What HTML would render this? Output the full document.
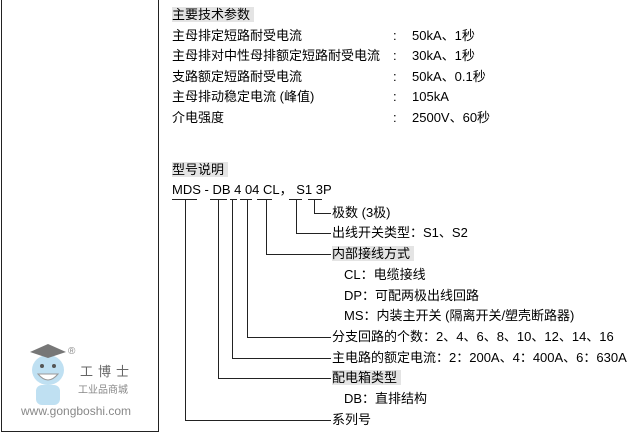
<!DOCTYPE html>
<html><head><meta charset="utf-8"><style>
body{margin:0;width:639px;height:434px;background:#fff;position:relative;overflow:hidden;font-family:"Liberation Sans","Noto Sans CJK SC",sans-serif;font-size:13px;color:#000}
.t{position:absolute;white-space:nowrap;line-height:16px;height:16px}
.h{background:#e4e4e4;padding-right:4px}
</style></head><body>
<div style="position:absolute;left:1px;top:-2px;width:156px;height:433px;border:1px solid #222;border-top:none"></div>
<svg style="position:absolute;left:0;top:0" width="639" height="434">
<g stroke="#222" stroke-width="1" fill="none">
<path d="M172 199.5H197M210 199.5H227M230 199.5H237M240 199.5H252M257 199.5H272M289 199.5H302M308 199.5H322"/>
<path d="M185.5 199.5V420.5H331M218.5 199.5V378.5H331M232.5 199.5V358.5H331M247.5 199.5V337.5H331M266.5 199.5V254.5H331M296.5 199.5V233.5H331M314.5 199.5V213.5H331"/>
</g>
<g>
<ellipse cx="48" cy="370" rx="16" ry="15" fill="#bfe0f2"/>
<path d="M30 352 L48 344 L66 352 L48 358Z" fill="#777"/>
<path d="M38 374 Q48 386 58 374Z" fill="#fff" stroke="#999"/>
<rect x="36" y="385" width="24" height="20" rx="6" fill="#bfe0f2"/>
<circle cx="42" cy="366" r="2" fill="#555"/><circle cx="54" cy="366" r="2" fill="#555"/>
</g>
</svg>
<div class="t" style="left:68px;top:344px;font-size:10px;color:#888">®</div>
<div class="t" style="left:80px;top:364px;font-size:13px;color:#666;letter-spacing:5px">工博士</div>
<div class="t" style="left:78px;top:383px;font-size:10px;color:#888">工业品商城</div>
<div class="t" style="left:21px;top:403px;font-size:12px;color:#888">www.gongboshi.com</div>

<div class="t" style="left:172px;top:7px"><span class="h">主要技术参数</span></div>
<div class="t" style="left:172px;top:28px">主母排定短路耐受电流</div>
<div class="t" style="left:172px;top:48px">主母排对中性母排额定短路耐受电流</div>
<div class="t" style="left:172px;top:69px">支路额定短路耐受电流</div>
<div class="t" style="left:172px;top:89px">主母排动稳定电流 (峰值)</div>
<div class="t" style="left:172px;top:110px">介电强度</div>
<div class="t" style="left:393px;top:28px">:</div>
<div class="t" style="left:393px;top:48px">:</div>
<div class="t" style="left:393px;top:69px">:</div>
<div class="t" style="left:393px;top:89px">:</div>
<div class="t" style="left:393px;top:110px">:</div>
<div class="t" style="left:412px;top:28px">50kA、1秒</div>
<div class="t" style="left:412px;top:48px">30kA、1秒</div>
<div class="t" style="left:412px;top:69px">50kA、0.1秒</div>
<div class="t" style="left:412px;top:89px">105kA</div>
<div class="t" style="left:412px;top:110px">2500V、60秒</div>

<div class="t" style="left:172px;top:162px"><span class="h">型号说明</span></div>
<div class="t" style="left:172px;top:182px">MDS - DB 4 04 CL， S1 3P</div>
<div class="t" style="left:332px;top:205px">极数 (3极)</div>
<div class="t" style="left:332px;top:225px">出线开关类型：S1、S2</div>
<div class="t" style="left:332px;top:246px"><span class="h">内部接线方式</span></div>
<div class="t" style="left:344px;top:267px">CL：电缆接线</div>
<div class="t" style="left:344px;top:288px">DP：可配两极出线回路</div>
<div class="t" style="left:344px;top:308px">MS：内装主开关 (隔离开关/塑壳断路器)</div>
<div class="t" style="left:332px;top:329px">分支回路的个数：2、4、6、8、10、12、14、16</div>
<div class="t" style="left:332px;top:350px">主电路的额定电流：2：200A、4：400A、6：630A</div>
<div class="t" style="left:332px;top:370px"><span class="h">配电箱类型</span></div>
<div class="t" style="left:344px;top:391px">DB：直排结构</div>
<div class="t" style="left:332px;top:412px">系列号</div>
</body></html>
